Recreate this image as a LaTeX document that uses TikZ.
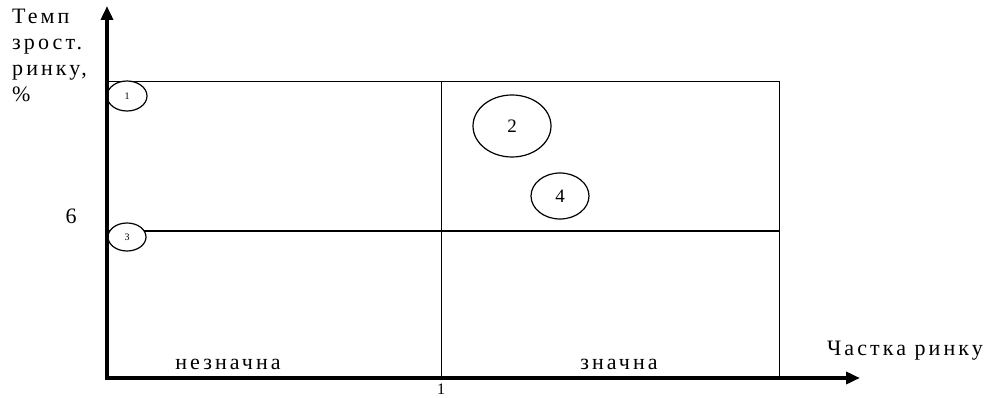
\documentclass[tikz,border=0pt]{standalone}
\usepackage{fontspec}
\setmainfont{Liberation Serif}
\usetikzlibrary{arrows.meta,shapes.geometric}
\tikzset{
    lab/.style={
        font=\fontsize{22}{26}\selectfont\addfontfeatures{LetterSpace=14}
    }
}

\begin{document}
\begin{tikzpicture}[x=1pt,y=-1pt, line cap=butt, line join=miter]

\useasboundingbox (0,0) rectangle (993,398);

\tikzset{
  grid/.style={draw=black, line width=1pt},
  axis/.style={draw=black, line width=3.5pt, {Triangle[length=14pt,width=12pt]}-{Triangle[length=14pt,width=12pt]}},
  bub/.style={ellipse, draw=black, fill=white, line width=1.2pt, inner sep=0pt},
  num/.style={font=\fontsize{22}{24}\selectfont},
}

% corners
\coordinate (O) at (107,378);
\coordinate (Ytop) at (107,6);
\coordinate (Xend) at (860,378);

\coordinate (TL) at (107,82);
\coordinate (TM) at (441,82);
\coordinate (TR) at (779,82);
\coordinate (ML) at (107,231);
\coordinate (MR) at (779,231);
\coordinate (BM) at (441,378);
\coordinate (BR) at (779,378);

% matrix
\draw[grid] (TL) -- (TR) -- (BR);
\draw[grid] (TM) -- (BM);
\draw[grid] (ML) -- (MR);

% bubbles
\node[bub, minimum width=40pt, minimum height=30pt, font=\fontsize{10}{11}\selectfont] (b1) at (127,96) {1};
\node[bub, minimum width=78pt, minimum height=62pt, font=\fontsize{19}{21}\selectfont] (b2) at (512,126) {2};
\node[bub, minimum width=38pt, minimum height=28pt, font=\fontsize{10}{11}\selectfont] (b3) at (127,237) {3};
\node[bub, minimum width=58pt, minimum height=46pt, font=\fontsize{19}{21}\selectfont] (b4) at (560,196) {4};

% axes
\draw[axis] (Ytop) -- (O) -- (Xend);

% labels
\node[lab, align=left, anchor=north west, inner sep=0pt] (ylab) at (12,9) {Темп\\зрост.\\ринку,\\\%};
\node[lab, anchor=base] (xlab) at (905,355) {Частка ринку};
\node[lab, anchor=base] (low) at (228,369) {незначна};
\node[lab, anchor=base] (high) at (619,369) {значна};
\node[num, anchor=base] (six) at (71,223) {6};
\node[num, anchor=base, inner sep=0pt, font=\fontsize{16}{18}\selectfont] (one) at (441,394) {1};

\end{tikzpicture}
\end{document}
